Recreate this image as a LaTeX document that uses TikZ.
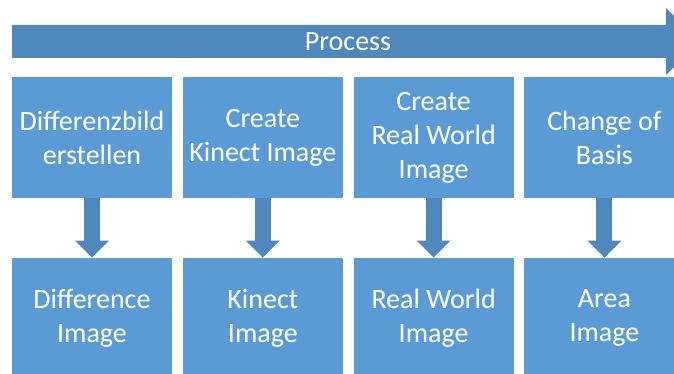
\documentclass[tikz,border=0pt]{standalone}
\usepackage{fontspec}
\setmainfont{Carlito}
\definecolor{BoxBlue}{RGB}{91, 155, 213}
\definecolor{ArrowBlue}{RGB}{79, 136, 188}
\usetikzlibrary{arrows.meta, positioning}

\begin{document}
\begin{tikzpicture}[
            x=0.5pt, y=-0.5pt,
            box/.style={rectangle, fill=BoxBlue, text=white, inner sep=0pt,
                        minimum width=80pt, minimum height=60pt, align=center,
                        font=\fontsize{14pt}{17pt}\selectfont},
            down/.style={ArrowBlue, line width=8pt,
                         -{Triangle[width=17pt, length=8.5pt, line width=0pt]}}
        ]
            \clip (0,0) rectangle (674,374);

            % process arrow
            \fill[ArrowBlue] (12,25) -- (666,25) -- (666,8) -- (700,41.5)
                -- (666,75) -- (666,58) -- (12,58) -- cycle;
            \node[text=white, font=\fontsize{14pt}{17pt}\selectfont] (process) at (348,41.5) {Process};

            % steps
            \node[box] (diff) at (92,137.5) {Differenzbild\\erstellen};
            \node[box, right=5pt of diff] (kinect) {Create\\Kinect Image};
            \node[box, right=5pt of kinect] (real) {Create\\Real World\\Image};
            \node[box, right=5pt of real] (basis) {Change of\\Basis};

            % results
            \node[box] (diffimg) at (92,318) {Difference\\Image};
            \node[box, right=5pt of diffimg] (kinectimg) {Kinect\\Image};
            \node[box, right=5pt of kinectimg] (realimg) {Real World\\Image};
            \node[box, right=5pt of realimg] (areaimg) {Area\\Image};

            \draw[down] (diff) -- (diffimg);
            \draw[down] (kinect) -- (kinectimg);
            \draw[down] (real) -- (realimg);
            \draw[down] (basis) -- (areaimg);
        \end{tikzpicture}
\end{document}
